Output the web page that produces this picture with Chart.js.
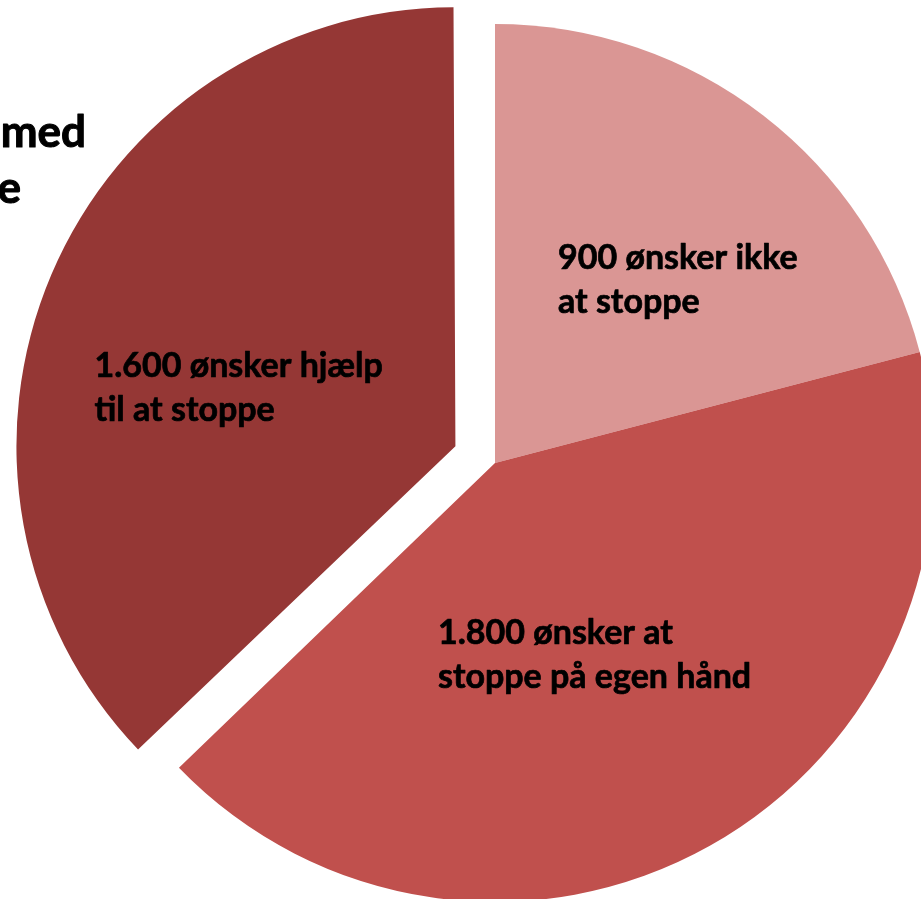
<!DOCTYPE html>
<html>
<head>
<meta charset="utf-8">
<script src="https://cdn.jsdelivr.net/npm/chart.js@4"></script>
<style>
  html, body { margin: 0; padding: 0; background: #fff; overflow: hidden; }
  #wrap { width: 921px; height: 899px; position: relative; }
</style>
</head>
<body>
<div id="wrap"><canvas id="rygere"></canvas></div>
<script>
// Fordeling af rygere efter ønske om at stoppe
const categories = ['ønsker ikke at stoppe', 'ønsker at stoppe på egen hånd', 'ønsker hjælp til at stoppe'];
const values = [900, 1800, 1600];
const labelLines = [
  ['900 ønsker ikke', 'at stoppe'],
  ['1.800 ønsker at', 'stoppe på egen hånd'],
  ['1.600 ønsker hjælp', 'til at stoppe']
];
const titleLines = ['med', 'e'];

const colors = ['#DA9694', '#C0504D', '#953735'];
// udtrukket afstand i pixels (Chart.js v4 flytter kun offset/4)
const explode = [0, 0, 43];
// hvor teksten sidder i forhold til udsnittets centrum (venstre kant, første grundlinje)
const labelShift = [[63, -194], [-57, 181], [-361, -69]];

// v4 gør også det udtrukne udsnit lidt større - det trækkes fra igen
const keepRadius = {
  id: 'keepRadius',
  afterDatasetsUpdate(chart) {
    chart.getDatasetMeta(0).data.forEach((arc, i) => {
      const circ = arc.endAngle - arc.startAngle;
      const fix = 1 - Math.sin(Math.min(Math.PI, circ));
      arc.outerRadius -= explode[i] * fix;
    });
  }
};

// fed tekst med en tynd kant så den står lidt kraftigere
function heavyText(c, t, x, y) {
  c.fillText(t, x, y);
  c.strokeText(t, x, y);
}

const sliceText = {
  id: 'sliceText',
  afterDatasetsDraw(chart) {
    const c = chart.ctx;
    const arcs = chart.getDatasetMeta(0).data;
    c.save();
    c.fillStyle = '#000';
    c.strokeStyle = '#000';
    c.lineWidth = 0.7;
    c.lineJoin = 'round';
    c.font = 'bold 34px Lato';
    c.textAlign = 'left';
    c.textBaseline = 'alphabetic';
    arcs.forEach((arc, i) => {
      const mid = (arc.startAngle + arc.endAngle) / 2;
      const cx = arc.x + Math.cos(mid) * explode[i];
      const cy = arc.y + Math.sin(mid) * explode[i];
      labelLines[i].forEach((t, j) => {
        heavyText(c, t, cx + labelShift[i][0], cy + labelShift[i][1] + j * 44);
      });
    });
    // titlen er skåret af i venstre side
    c.font = 'bold 44px Lato';
    c.lineWidth = 1;
    c.textAlign = 'right';
    heavyText(c, titleLines[0], 86, 147);
    heavyText(c, titleLines[1], 21, 203);
    c.restore();
  }
};

new Chart(document.getElementById('rygere'), {
  type: 'pie',
  data: {
    labels: categories,
    datasets: [{
      data: values,
      backgroundColor: colors,
      borderWidth: 0,
      offset: explode.map(v => v * 4),
      hoverOffset: 0
    }]
  },
  options: {
    responsive: true,
    maintainAspectRatio: false,
    animation: false,
    events: [],
    radius: 439,
    layout: { padding: { left: 69, top: 27, right: 0, bottom: 0 } },
    plugins: {
      legend: { display: false },
      title: { display: false },
      tooltip: { enabled: false }
    }
  },
  plugins: [keepRadius, sliceText]
});
</script>
</body>
</html>
